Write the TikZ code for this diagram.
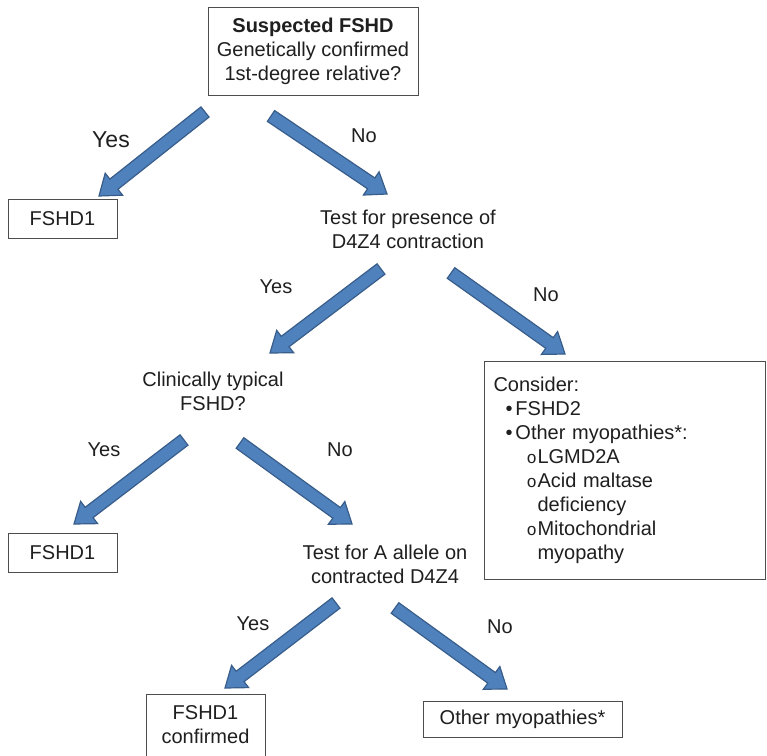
\documentclass[tikz,border=0pt]{standalone}
\usepackage{fontspec}
\setmainfont{Liberation Sans}
\newfontfamily\bulletmono{Liberation Mono}
\usetikzlibrary{calc}
\definecolor{arrowfill}{HTML}{4F81BD}
\definecolor{arrowline}{HTML}{385D8A}
\definecolor{boxline}{HTML}{4D4D4D}
\definecolor{txt}{HTML}{1F1F1F}
\tikzset{
  txtnode/.style={align=center, inner sep=0pt, text=txt, font=\fontsize{20}{24}\selectfont},
  boxnode/.style={draw=boxline, line width=1pt, align=center, inner sep=0pt, text=txt, font=\fontsize{20}{24}\selectfont},
  lbl/.style={inner sep=0pt, text=txt, font=\fontsize{20}{24}\selectfont},
  barrow/.style={fill=arrowfill, draw=arrowline, line width=1.2pt, line join=miter}
}
\newcommand\blockarrow[2]{%
  \coordinate (hb) at ($(#2)!19pt!(#1)$);
  \filldraw[barrow] ($(#1)!6.5pt!90:(#2)$) -- ($(hb)!6.5pt!-90:(#1)$) -- ($(hb)!14pt!-90:(#1)$) -- (#2)
    -- ($(hb)!14pt!90:(#1)$) -- ($(hb)!6.5pt!90:(#1)$) -- ($(#1)!6.5pt!-90:(#2)$) -- cycle;}
\newcommand\subbullet{\makebox[11pt][l]{\bulletmono\fontsize{17}{24}\selectfont o}}
\begin{document}
\begin{tikzpicture}[x=1pt,y=-1pt]
\useasboundingbox[fill=white] (0,0) rectangle (767,755);
% nodes
\node[boxnode, minimum width=210pt, minimum height=88pt] (top) at (313,51)
  {{\bfseries Suspected FSHD}\\Genetically confirmed\\1st-degree relative?};
\node[boxnode, minimum width=109pt, minimum height=39pt] (f1) at (62.5,218.5) {FSHD1};
\node[txtnode] (t1) at (408,229) {Test for presence of\\D4Z4 contraction};
\node[txtnode] (cl) at (213,391) {Clinically typical\\FSHD?};
\node[boxnode, minimum width=281pt, minimum height=218pt, align=left,
  text width=262pt, inner xsep=9.5pt, inner ysep=0pt] (cons) at (624.5,470)
  {Consider:\\
   \hspace*{12pt}\makebox[10pt][l]{•}FSHD2\\
   \hspace*{12pt}\makebox[10pt][l]{•}Other myopathies*:\\
   \hspace*{33pt}\subbullet LGMD2A\\
   \hspace*{33pt}\subbullet Acid maltase\\
   \hspace*{44pt}deficiency\\
   \hspace*{33pt}\subbullet Mitochondrial\\
   \hspace*{44pt}myopathy};
\node[boxnode, minimum width=109pt, minimum height=39pt] (f2) at (62.5,553) {FSHD1};
\node[txtnode] (t2) at (385,564) {Test for A allele on\\contracted D4Z4};
\node[boxnode, minimum width=119pt, minimum height=62pt] (fc) at (205.5,725) {FSHD1\\confirmed};
\node[boxnode, minimum width=199pt, minimum height=36pt] (om) at (522.5,719) {Other myopathies*};
% arrow end points
\coordinate (a1s) at (205,112); \coordinate (a1e) at (99,196);
\coordinate (a2s) at (271,116); \coordinate (a2e) at (387,194);
\coordinate (a3s) at (381,269); \coordinate (a3e) at (270,353);
\coordinate (a4s) at (451,273); \coordinate (a4e) at (565,354);
\coordinate (a5s) at (184,440); \coordinate (a5e) at (74,524);
\coordinate (a6s) at (240,443); \coordinate (a6e) at (352,524);
\coordinate (a7s) at (336,603); \coordinate (a7e) at (225,688);
\coordinate (a8s) at (395,608); \coordinate (a8e) at (507,689);
\blockarrow{a1s}{a1e}
\blockarrow{a2s}{a2e}
\blockarrow{a3s}{a3e}
\blockarrow{a4s}{a4e}
\blockarrow{a5s}{a5e}
\blockarrow{a6s}{a6e}
\blockarrow{a7s}{a7e}
\blockarrow{a8s}{a8e}
% labels
\node[lbl, font=\fontsize{23}{26}\selectfont] (y1) at (111,140) {Yes};
\node[lbl] (n1) at (364,136) {No};
\node[lbl] (y2) at (276,287) {Yes};
\node[lbl] (n2) at (546,295) {No};
\node[lbl] (y3) at (104,450) {Yes};
\node[lbl] (n3) at (340,450) {No};
\node[lbl] (y4) at (253,624) {Yes};
\node[lbl] (n4) at (500,627) {No};
\end{tikzpicture}
\end{document}
